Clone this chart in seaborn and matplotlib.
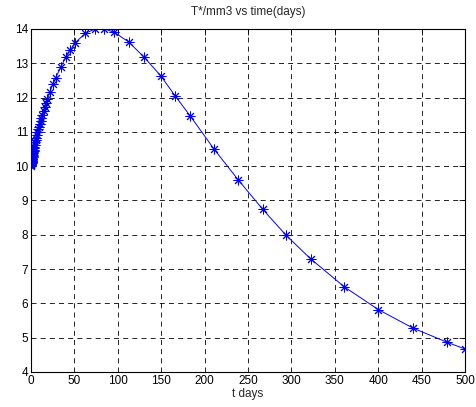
import matplotlib
matplotlib.use("Agg")
import matplotlib.pyplot as plt
import seaborn as sns
import pandas as pd

t_days = [0, 0.1, 0.2, 0.3, 0.4, 0.5, 0.6, 0.7, 0.8, 0.9, 1.0, 1.15, 1.3, 1.45, 1.6, 1.8,
          2.0, 2.25, 2.5, 2.75, 3.0, 3.3, 3.6, 4.0, 4.5, 5.0, 5.5, 6.0, 6.7, 7.3, 8.1, 9.0,
          10.0, 11.0, 12.0, 13.0, 14.5, 16, 17.5, 19, 22, 25, 28.5, 34.5, 40, 45, 51, 62.5,
          74, 84.5, 96, 112.5, 130.5, 149.5, 166, 183.5, 211, 239, 267, 294, 322, 361, 400,
          440, 479, 500]
t_cells = [10.0, 10.02, 10.04, 10.05, 10.07, 10.08, 10.1, 10.11, 10.13, 10.14, 10.16, 10.18,
           10.2, 10.22, 10.25, 10.27, 10.3, 10.33, 10.37, 10.4, 10.44, 10.48, 10.52, 10.57,
           10.63, 10.7, 10.76, 10.83, 10.91, 11.0, 11.08, 11.15, 11.24, 11.32, 11.4, 11.49,
           11.61, 11.73, 11.84, 11.95, 12.17, 12.38, 12.58, 12.9, 13.17, 13.38, 13.6, 13.87,
           14.0, 14.0, 13.9, 13.62, 13.17, 12.63, 12.05, 11.46, 10.49, 9.59, 8.74, 7.98, 7.30,
           6.48, 5.82, 5.28, 4.87, 4.67]
x_ticks = [0, 50, 100, 150, 200, 250, 300, 350, 400, 450, 500]
y_ticks = [4, 5, 6, 7, 8, 9, 10, 11, 12, 13, 14]

sns.set_style("white")
plt.rcParams['font.family'] = ['Liberation Sans', 'DejaVu Sans']

df = pd.DataFrame({"t": t_days, "T": t_cells})

fig = plt.figure(figsize=(4.77, 4.07), dpi=100)
ax = fig.add_axes([0.065, 0.086, 0.91, 0.843])
sns.lineplot(data=df, x="t", y="T", ax=ax, color="#0000ff", linewidth=0.7,
             marker=(8, 2, 0), markersize=7, markeredgecolor="#0000ff", markerfacecolor="#0000ff",
             markeredgewidth=0.7, estimator=None, sort=False)

ax.set_xlim(0, 500)
ax.set_ylim(4, 14)
ax.set_xticks(x_ticks)
ax.set_yticks(y_ticks)
ax.set_xticklabels([str(v) for v in x_ticks], fontsize=8.5)
ax.set_yticklabels([str(v) for v in y_ticks], fontsize=8.5)
ax.tick_params(direction="in", length=4, width=0.6, top=True, right=True, colors="black", pad=2)
ax.grid(True, color="black", linestyle=(0, (6, 5)), linewidth=0.6)
for s in ax.spines.values():
    s.set_color("black")
    s.set_linewidth(0.8)
ax.set_title("T*/mm3 vs time(days)", fontsize=8.5, pad=10)
ax.set_xlabel("t days", fontsize=8.5, labelpad=1)
ax.set_ylabel("")
fig.savefig("out.png", dpi=100, facecolor="white")
